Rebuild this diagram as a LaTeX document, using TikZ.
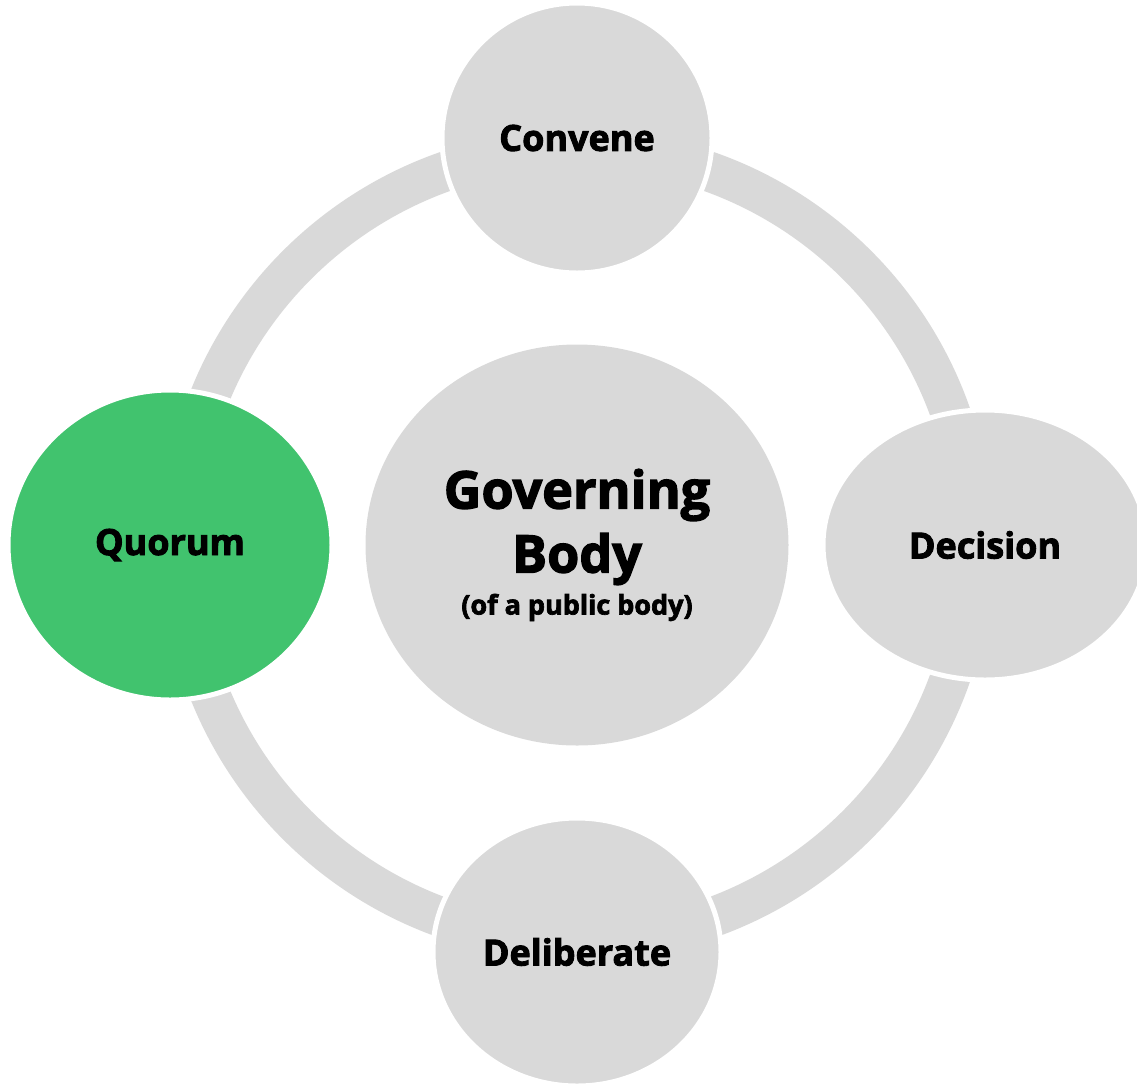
\documentclass[tikz,border=0pt]{standalone}
\usepackage{fontspec}
\setmainfont{Open Sans}[BoldFeatures={FakeBold=2.5}]
\usetikzlibrary{shapes.geometric}
\definecolor{stagegray}{HTML}{D9D9D9}
\definecolor{quorgreen}{HTML}{41C36E}
\tikzset{
  stage/.style={ellipse,fill=stagegray,draw=white,line width=5pt,inner sep=0pt,
    font=\bfseries\fontsize{36}{43}\selectfont},
}
\begin{document}
\begin{tikzpicture}[x=1pt,y=-1pt]
  \useasboundingbox (0,0) rectangle (1137,1085);
  \coordinate (c) at (577,545);
  % the cycle ring behind the stages
  \draw[stagegray,line width=40pt] (c) circle (396pt);
  \node[stage,minimum width=270pt,minimum height=270pt] (conv) at (577,138) {Convene};
  \node[stage,minimum width=324pt,minimum height=270pt] (dec) at (985,545) {Decision};
  \node[stage,minimum width=288pt,minimum height=268pt] (delib) at (577,952) {Deliberate};
  \node[stage,fill=quorgreen,minimum width=324pt,minimum height=310pt] (quor) at (170,545) {Quorum};
  \node[stage,draw=none,minimum width=423pt,minimum height=401pt,align=center,
    font=\bfseries\fontsize{52}{64}\selectfont] (gov) at (c)
    {Governing\\Body\\[-22pt]{\fontsize{27}{34}\selectfont(of a public body)}};
\end{tikzpicture}
\end{document}
